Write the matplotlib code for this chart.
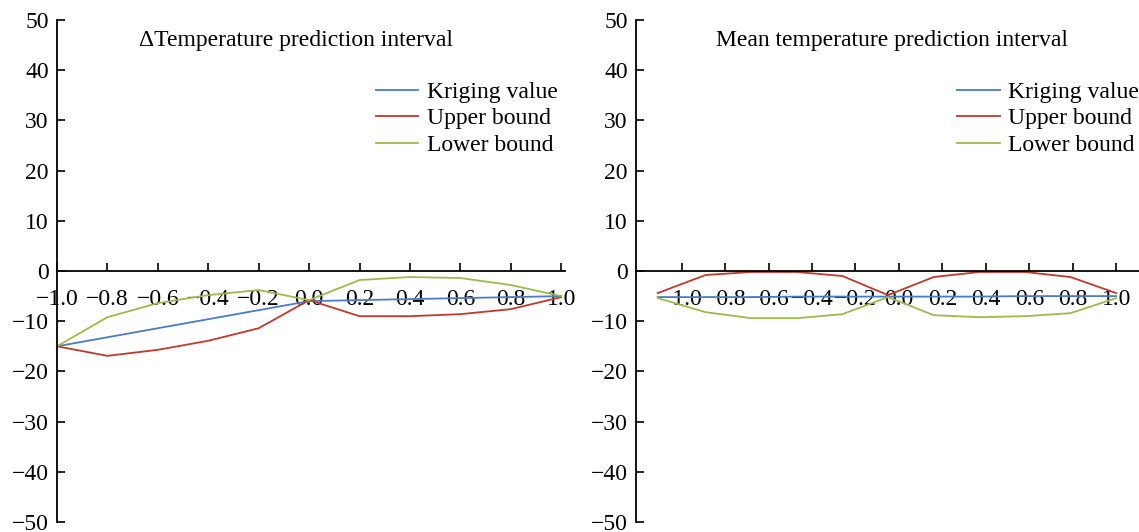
import matplotlib
matplotlib.use("Agg")
import matplotlib.pyplot as plt

plt.rcParams["font.family"] = ["Liberation Serif", "DejaVu Serif"]
plt.rcParams["axes.unicode_minus"] = True

# left panel: delta temperature
x_left = [-1.0, -0.8, -0.6, -0.4, -0.2, 0.0, 0.2, 0.4, 0.6, 0.8, 1.0]
kriging_left = [-15.0, -13.2, -11.4, -9.6, -7.8, -6.0, -5.8, -5.6, -5.4, -5.2, -5.0]
upper_left = [-15.0, -16.9, -15.7, -13.9, -11.4, -5.8, -9.0, -9.0, -8.6, -7.6, -5.2]
lower_left = [-15.0, -9.2, -6.4, -4.8, -3.8, -5.8, -1.8, -1.2, -1.4, -2.8, -5.0]

# right panel: mean temperature
x_right = [-1.11, -0.89, -0.68, -0.47, -0.26, -0.05, 0.16, 0.37, 0.58, 0.79, 1.0]
kriging_right = [-5.2, -5.2, -5.2, -5.1, -5.1, -5.1, -5.1, -5.1, -5.0, -5.0, -5.0]
upper_right = [-4.4, -0.8, -0.2, -0.2, -1.0, -4.8, -1.2, -0.2, -0.2, -1.2, -4.4]
lower_right = [-5.4, -8.2, -9.4, -9.4, -8.6, -5.2, -8.8, -9.2, -9.0, -8.4, -5.4]

x_ticks = [-1.0, -0.8, -0.6, -0.4, -0.2, 0.0, 0.2, 0.4, 0.6, 0.8, 1.0]
y_ticks = [-50, -40, -30, -20, -10, 0, 10, 20, 30, 40, 50]

BLUE = "#4a7cc4"
RED = "#c0392f"
GREEN = "#9bbb4a"
FS = 17


def style_axes(ax, xlim, title, title_x):
    ax.set_xlim(*xlim)
    ax.set_ylim(-50, 50)
    ax.spines["top"].set_visible(False)
    ax.spines["right"].set_visible(False)
    ax.spines["bottom"].set_position(("data", 0))
    for s in ("left", "bottom"):
        ax.spines[s].set_linewidth(1.3)
    ax.set_xticks(x_ticks)
    ax.set_xticklabels([f"{t:.1f}".replace("-", "\u2212") for t in x_ticks])
    ax.set_yticks(y_ticks)
    ax.tick_params(axis="x", direction="in", length=6, width=1.2, pad=13, labelsize=FS)
    ax.tick_params(axis="y", direction="in", length=6, width=1.2, pad=6, labelsize=FS)
    ax.text(title_x, 0.96, title, transform=ax.transAxes, ha="center", va="center",
            fontsize=FS)


fig = plt.figure(figsize=(11.39, 5.32), dpi=100)
ax1 = fig.add_axes([57 / 1139, 10 / 532, 508 / 1139, 502 / 532])
ax2 = fig.add_axes([636 / 1139, 10 / 532, 503 / 1139, 502 / 532])

for ax, xs, k, u, lo in [
    (ax1, x_left, kriging_left, upper_left, lower_left),
    (ax2, x_right, kriging_right, upper_right, lower_right),
]:
    ax.plot(xs, k, color=BLUE, lw=1.3, label="Kriging value")
    ax.plot(xs, u, color=RED, lw=1.3, label="Upper bound")
    ax.plot(xs, lo, color=GREEN, lw=1.3, label="Lower bound")

style_axes(ax1, (-1.0, 1.015), "\u0394Temperature prediction interval", 0.47)
style_axes(ax2, (-1.21, 1.105), "Mean temperature prediction interval", 0.509)

for ax, bx in [(ax1, 0.985), (ax2, 1.0)]:
    ax.legend(loc="upper right", bbox_to_anchor=(bx, 0.878), frameon=False,
              fontsize=FS, handlelength=1.8, handletextpad=0.35,
              labelspacing=0.22, borderaxespad=0, borderpad=0)

fig.savefig("out.png", dpi=100)
plt.close(fig)
